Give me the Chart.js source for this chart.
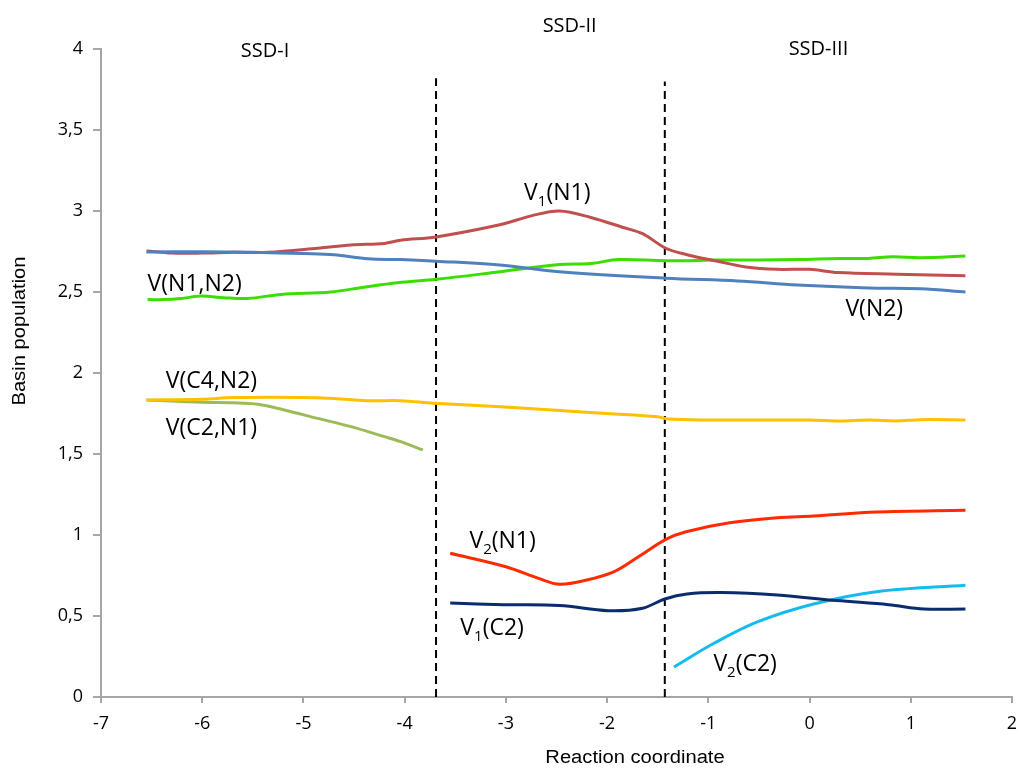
<!DOCTYPE html>
<html>
<head>
<meta charset="utf-8">
<script src="https://cdn.jsdelivr.net/npm/chart.js@4/dist/chart.umd.min.js"></script>
<style>
  html, body { margin: 0; padding: 0; background: #fff; }
</style>
</head>
<body>
<canvas id="grafica" width="1018" height="769"></canvas>
<script>
// valores
const xVN2 = [-6.55, -6.0, -5.5, -5.0, -4.7, -4.36, -4.04, -3.69, -3.06, -2.47, -1.42, -0.71, -0.12, 0.58, 1.1, 1.54];
const yVN2 = [2.747, 2.748, 2.745, 2.737, 2.73, 2.705, 2.70, 2.69, 2.667, 2.625, 2.585, 2.568, 2.543, 2.525, 2.52, 2.50];

const xV1N1 = [-6.55, -6.3, -6.0, -5.69, -5.35, -4.86, -4.53, -4.2, -4.04, -3.69, -3.06, -2.75, -2.47, -2.16, -1.85, -1.65, -1.42, -1.21, -0.91, -0.63, -0.32, 0.0, 0.28, 0.86, 1.54];
const yV1N1 = [2.753, 2.74, 2.74, 2.745, 2.745, 2.77, 2.79, 2.80, 2.82, 2.84, 2.915, 2.97, 3.0, 2.96, 2.90, 2.86, 2.77, 2.73, 2.69, 2.655, 2.64, 2.64, 2.62, 2.61, 2.60];

const xVN1N2 = [-6.54, -6.38, -6.21, -6.01, -5.79, -5.55, -5.22, -4.73, -4.4, -4.07, -3.69, -3.06, -2.47, -2.16, -1.89, -1.42, -0.91, -0.12, 0.28, 0.58, 0.82, 1.09, 1.54];
const yVN1N2 = [2.453, 2.453, 2.46, 2.475, 2.465, 2.46, 2.485, 2.50, 2.53, 2.557, 2.578, 2.625, 2.67, 2.676, 2.70, 2.693, 2.697, 2.70, 2.707, 2.707, 2.718, 2.712, 2.722];

const xVC4N2 = [-6.55, -6.0, -5.69, -5.03, -4.7, -4.37, -4.04, -3.71, -3.05, -2.5, -2.0, -1.5, -1.4, -1.0, -0.5, 0.0, 0.3, 0.6, 0.85, 1.1, 1.54];
const yVC4N2 = [1.833, 1.838, 1.848, 1.849, 1.843, 1.829, 1.829, 1.813, 1.792, 1.77, 1.75, 1.73, 1.716, 1.71, 1.71, 1.71, 1.704, 1.71, 1.704, 1.712, 1.71];

const xVC2N1 = [-6.55, -6.0, -5.69, -5.45, -5.19, -4.86, -4.53, -4.2, -4.04, -3.82];
const yVC2N1 = [1.833, 1.819, 1.816, 1.807, 1.772, 1.72, 1.669, 1.607, 1.576, 1.525];

const xV2N1 = [-3.55, -3.0, -2.67, -2.47, -2.2, -1.93, -1.69, -1.42, -1.22, -0.79, -0.32, 0.04, 0.66, 1.54];
const yV2N1 = [0.887, 0.804, 0.731, 0.696, 0.722, 0.774, 0.866, 0.973, 1.02, 1.075, 1.107, 1.117, 1.142, 1.153];

const xV1C2 = [-3.55, -3.02, -2.47, -1.99, -1.65, -1.43, -1.21, -0.87, -0.32, 0.27, 0.78, 1.13, 1.54];
const yV1C2 = [0.58, 0.57, 0.565, 0.533, 0.548, 0.605, 0.636, 0.645, 0.63, 0.595, 0.57, 0.543, 0.543];

const xV2C2 = [-1.34, -0.94, -0.51, 0.04, 0.66, 1.54];
const yV2C2 = [0.185, 0.333, 0.465, 0.574, 0.65, 0.69];

// limites SSD (lineas discontinuas)
const xLimites = [-3.69, -1.43];
const yTopeLimites = [3.82, 3.80];

const ticksY = [0, 0.5, 1, 1.5, 2, 2.5, 3, 3.5, 4];

const puntos = (xs, ys) => xs.map((x, i) => ({ x: x, y: ys[i] }));

function serie(label, xs, ys, color) {
    return {
        label: label,
        data: puntos(xs, ys),
        borderColor: color,
        borderWidth: 3,
        pointRadius: 0,
        showLine: true,
        tension: 0.35,
        fill: false
    };
}

const datasets = [
    serie("V(N2)", xVN2, yVN2, "#4F81BD"),
    serie("V1(N1)", xV1N1, yV1N1, "#C0504D"),
    serie("V(N1,N2)", xVN1N2, yVN1N2, "#3BDE00"),
    serie("V(C4,N2)", xVC4N2, yVC4N2, "#FFC000"),
    serie("V(C2,N1)", xVC2N1, yVC2N1, "#9BBB59"),
    serie("V2(N1)", xV2N1, yV2N1, "#FF2A00"),
    serie("V1(C2)", xV1C2, yV1C2, "#0B2C6C"),
    serie("V2(C2)", xV2C2, yV2C2, "#14BBEF")
];

xLimites.forEach((x, i) => {
    datasets.push({
        label: "limite" + i,
        data: [{ x: x, y: 0 }, { x: x, y: yTopeLimites[i] }],
        borderColor: "#000",
        borderWidth: 2,
        borderDash: [8, 5],
        pointRadius: 0,
        showLine: true,
        clip: false
    });
});

// etiquetas de texto (coordenadas de datos)
const etiquetas = [
    { x: -5.38, y: 3.994, partes: [["SSD-I"]], tam: 20, centro: true },
    { x: -2.37, y: 4.148, partes: [["SSD-II"]], tam: 20, centro: true },
    { x: 0.088, y: 4.006, partes: [["SSD-III"]], tam: 20, centro: true },
    { x: -6.54, y: 2.56, partes: [["V(N1,N2)"]], tam: 23 },
    { x: -6.36, y: 1.957, partes: [["V(C4,N2)"]], tam: 23 },
    { x: -6.36, y: 1.667, partes: [["V(C2,N1)"]], tam: 23 },
    { x: -2.82, y: 3.117, partes: [["V"], ["1", true], ["(N1)"]], tam: 23 },
    { x: 0.354, y: 2.40, partes: [["V(N2)"]], tam: 23 },
    { x: -3.36, y: 0.969, partes: [["V"], ["2", true], ["(N1)"]], tam: 23 },
    { x: -3.45, y: 0.435, partes: [["V"], ["1", true], ["(C2)"]], tam: 23 },
    { x: -0.95, y: 0.214, partes: [["V"], ["2", true], ["(C2)"]], tam: 23 }
];

const pluginTextos = {
    id: "textos",
    afterDraw(chart) {
        const ctx = chart.ctx;
        const sx = chart.scales.x, sy = chart.scales.y;
        ctx.save();
        ctx.fillStyle = "#000";
        ctx.textBaseline = "alphabetic";
        ctx.textAlign = "left";
        etiquetas.forEach(e => {
            const fuente = e.tam + "px 'Open Sans'";
            const fuenteSub = Math.round(e.tam * 0.65) + "px 'Open Sans'";
            let ancho = 0;
            e.partes.forEach(p => {
                ctx.font = p[1] ? fuenteSub : fuente;
                ancho += ctx.measureText(p[0]).width;
            });
            let px = sx.getPixelForValue(e.x);
            if (e.centro) px -= ancho / 2;
            const base = sy.getPixelForValue(e.y) + e.tam * 0.36;
            e.partes.forEach(p => {
                ctx.font = p[1] ? fuenteSub : fuente;
                ctx.fillText(p[0], px, p[1] ? base + 6 : base);
                px += ctx.measureText(p[0]).width;
            });
        });

        // titulos de ejes
        ctx.font = "18px 'Liberation Sans'";
        ctx.textAlign = "center";
        ctx.textBaseline = "middle";
        ctx.save();
        ctx.translate(635, 758);
        ctx.scale(1.12, 1);
        ctx.fillText("Reaction coordinate", 0, 0);
        ctx.restore();
        ctx.save();
        ctx.translate(20, 331);
        ctx.rotate(-Math.PI / 2);
        ctx.scale(1.12, 1);
        ctx.fillText("Basin population", 0, 0);
        ctx.restore();
        ctx.restore();
    }
};

new Chart(document.getElementById("grafica").getContext("2d"), {
    type: "scatter",
    data: { datasets: datasets },
    options: {
        responsive: false,
        animation: false,
        devicePixelRatio: 1,
        layout: { padding: { top: 49, right: 6, left: 0, bottom: 0 } },
        plugins: {
            legend: { display: false },
            tooltip: { enabled: false }
        },
        scales: {
            x: {
                type: "linear",
                min: -7,
                max: 2,
                afterFit: s => { s.height = 72; s.paddingLeft = 0; s.paddingRight = 0; },
                ticks: {
                    stepSize: 1,
                    color: "#000",
                    padding: 10,
                    font: { family: "'Open Sans'", size: 18 }
                },
                grid: { drawOnChartArea: false, drawTicks: true, tickLength: 6, color: "#A6A6A6", lineWidth: 2 },
                border: { color: "#A6A6A6", width: 2 }
            },
            y: {
                type: "linear",
                min: 0,
                max: 4,
                afterFit: s => { s.width = 101; s.paddingTop = 0; s.paddingBottom = 0; },
                afterBuildTicks: s => { s.ticks = ticksY.map(v => ({ value: v })); },
                ticks: {
                    color: "#000",
                    padding: 10,
                    font: { family: "'Open Sans'", size: 18 },
                    callback: v => String(v).replace(".", ",")
                },
                grid: { drawOnChartArea: false, drawTicks: true, tickLength: 8, color: "#A6A6A6", lineWidth: 2 },
                border: { color: "#A6A6A6", width: 2 }
            }
        }
    },
    plugins: [pluginTextos]
});
</script>
</body>
</html>
